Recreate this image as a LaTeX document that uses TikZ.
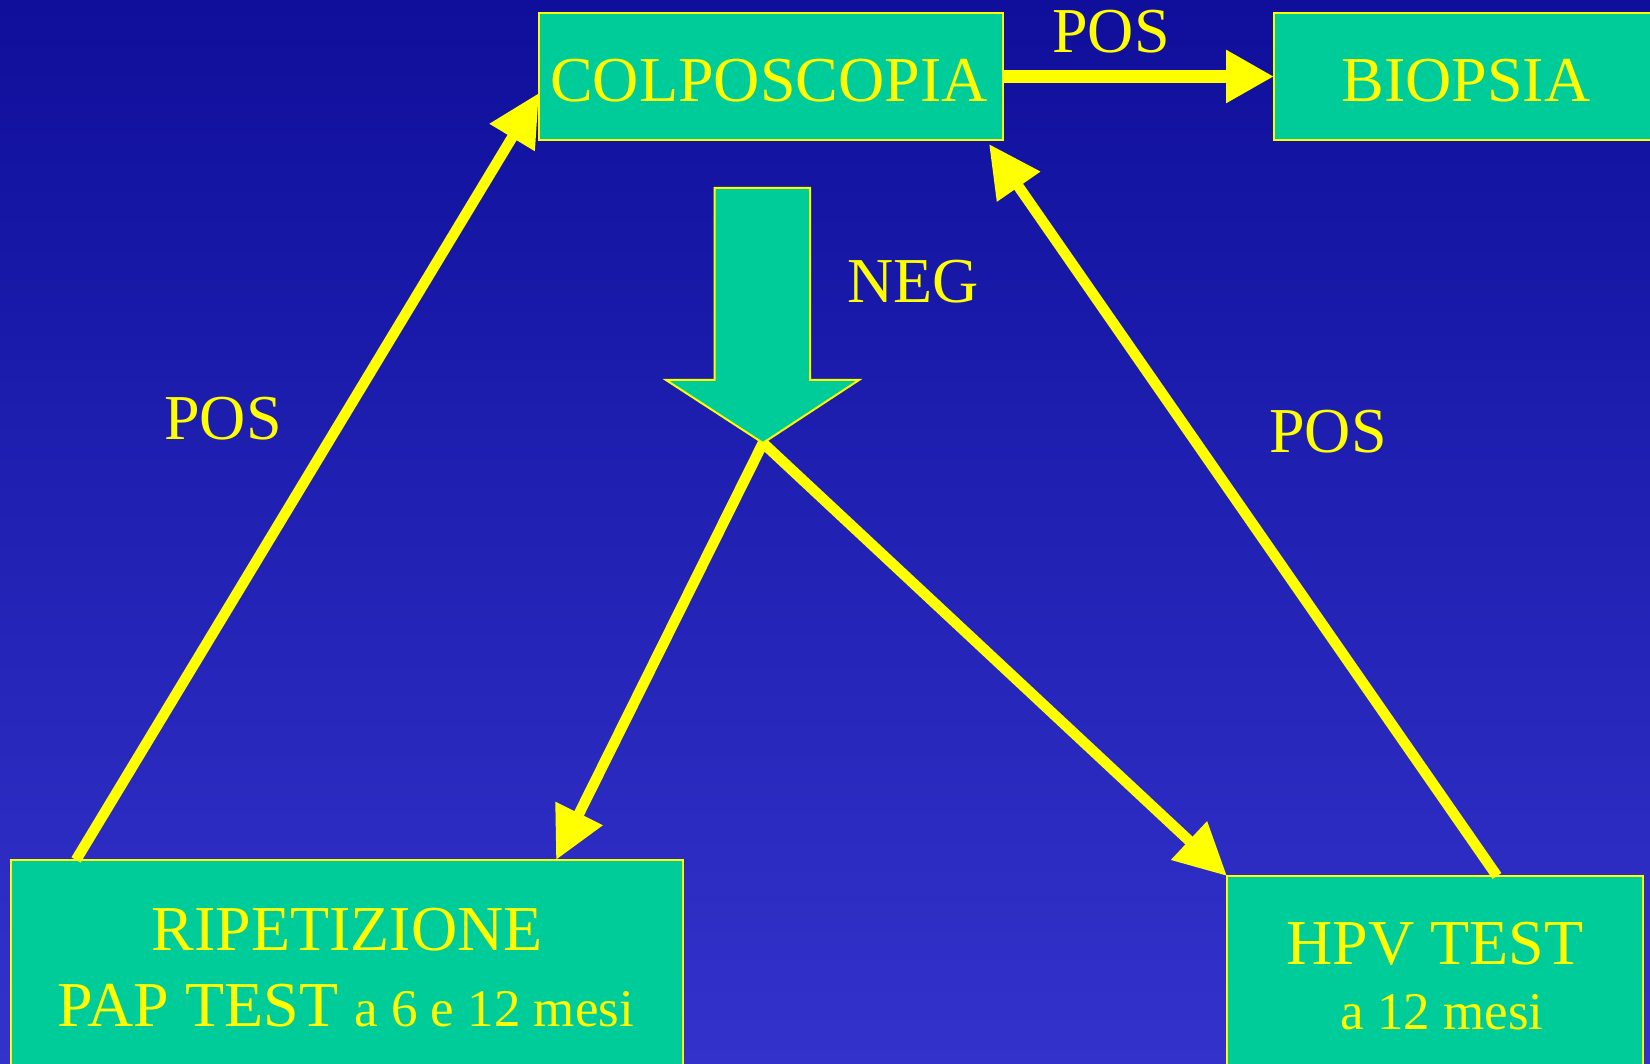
\documentclass[tikz,border=0pt]{standalone}
\usepackage{fontspec}
\setmainfont{Liberation Serif}
\usetikzlibrary{arrows.meta,calc}
\definecolor{bgtop}{RGB}{15,15,155}
\definecolor{bgbot}{RGB}{51,51,204}
\definecolor{boxgreen}{RGB}{0,204,153}
\definecolor{ylw}{RGB}{255,255,0}
\newcommand{\bigtxt}{\fontsize{32}{38}\selectfont}
\newcommand{\smalltxt}{\fontsize{26.5}{32}\selectfont}
\begin{document}
\begin{tikzpicture}[x=0.5pt,y=-0.5pt,
  box/.style={draw=ylw,line width=1pt,fill=boxgreen,inner sep=0,outer sep=0},
  txt/.style={text=ylw,inner sep=0,anchor=base,font=\bigtxt},
  link/.style={draw=ylw,line width=5.3pt,-{Triangle[length=26pt,width=25pt]}},
  mainlink/.style={draw=ylw,line width=6.5pt,-{Triangle[length=24pt,width=25pt]}},
]
\useasboundingbox (0,0) rectangle (1650,1064);
\clip (0,0) rectangle (1650,1064);
% background
\shade[top color=bgtop,bottom color=bgbot] (0,0) rectangle (1650,1064);

% boxes
\node[box,minimum width=232pt,minimum height=63.5pt] (col) at (771,76.5) {};
\node[box,minimum width=194pt,minimum height=63.5pt] (bio) at (1468,76.5) {};
\node[box,minimum width=336.25pt,minimum height=110pt] (rip) at (346.75,970) {};
\node[box,minimum width=208pt,minimum height=102pt] (hpv) at (1435,978) {};

% big down arrow (negative outcome)
\draw[draw=ylw,line width=1pt,fill=boxgreen,line join=miter]
  (714.5,188) -- (810,188) -- (810,380) -- (859,380) -- (763,443)
  -- (666,380) -- (714.5,380) -- cycle;
\coordinate (negtip) at (763,443);

% connectors
\draw[mainlink] (col.east) -- (bio.west);
\draw[link] ($(rip.north west)+(65.5,0)$) -- ($(col.west)+(0,16.5)$);
\draw[link] ($(hpv.north west)+(270,0)$) -- ($(col.south east)+(-14,4)$);
\draw[link] (negtip) -- ($(rip.north west)+(545.5,0)$);
\draw[link] (negtip) -- (hpv.north west);

% texts
\node[txt] (tcol) at (769,102) {COLPOSCOPIA};
\node[txt] (tbio) at (1466,102) {BIOPSIA};
\node[txt] (lpos1) at (1111,53) {POS};
\node[txt] (lneg) at (913,303) {NEG};
\node[txt] (lpos2) at (223,439) {POS};
\node[txt] (lpos3) at (1328,452) {POS};
\node[txt] (trip1) at (347,950) {RIPETIZIONE};
\node[txt] (trip2) at (346,1026) {PAP TEST {\smalltxt a 6 e 12 mesi}};
\node[txt] (thpv1) at (1435,964) {HPV TEST};
\node[txt] (thpv2) at (1442,1029) {\smalltxt a 12 mesi};
\end{tikzpicture}
\end{document}
